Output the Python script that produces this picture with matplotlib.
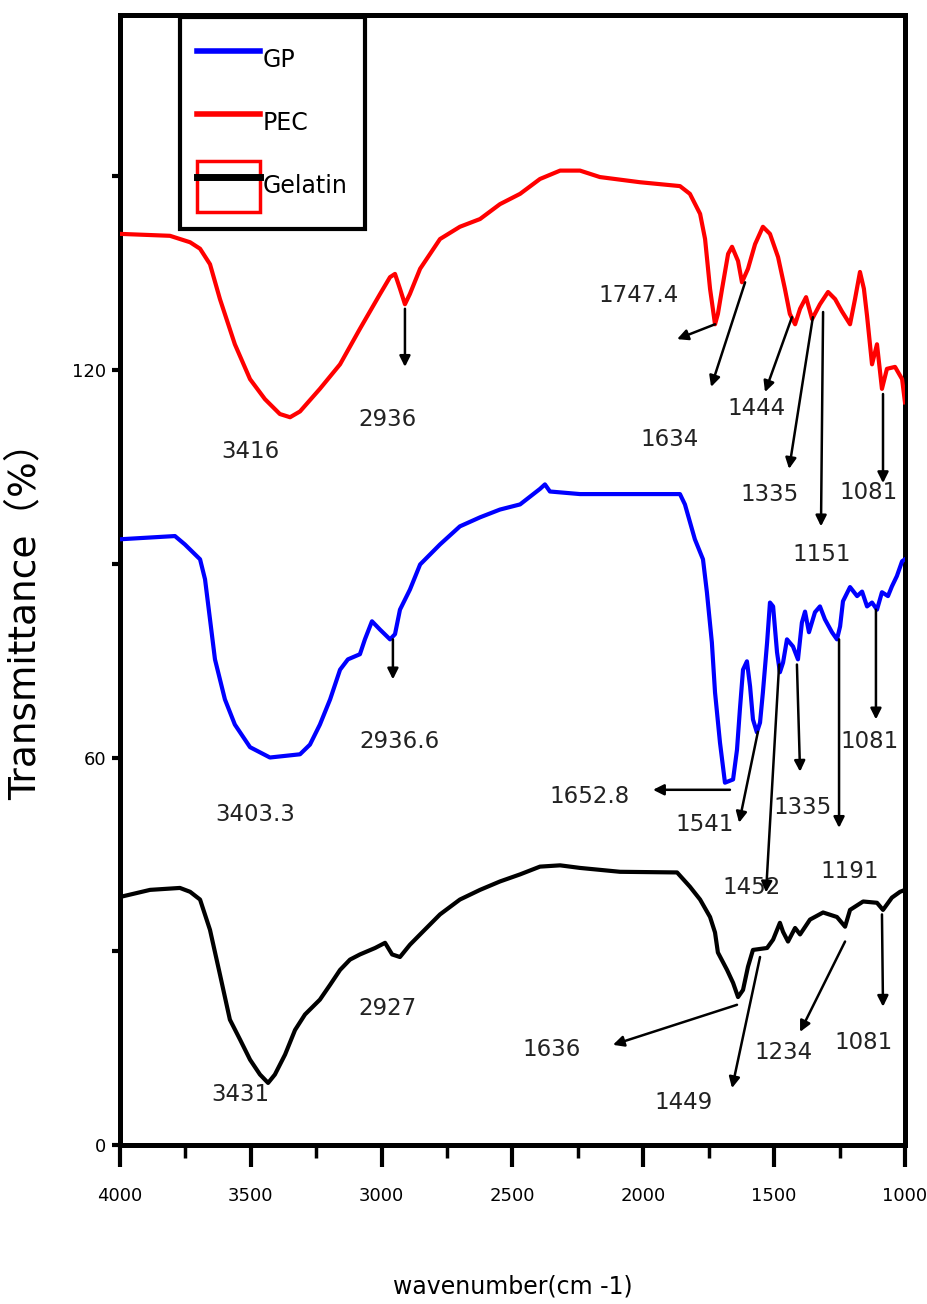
import matplotlib
matplotlib.use("Agg")
import matplotlib.pyplot as plt
from matplotlib.lines import Line2D
from matplotlib.patches import Rectangle
from matplotlib.legend_handler import HandlerTuple

FONT = ['DejaVu Sans']

# ---- data (wavenumber, transmittance) ----
pec_wn = [4000, 3809, 3732, 3694, 3656, 3618, 3561, 3503, 3446, 3389, 3350, 3312, 3236, 3159,
          3083, 3006, 2968, 2949, 2930, 2911, 2892, 2853, 2777, 2701, 2624, 2548, 2471, 2395,
          2318, 2242, 2166, 2013, 1860, 1822, 1783, 1764, 1745, 1726, 1715, 1699, 1676, 1661,
          1638, 1623, 1600, 1573, 1543, 1516, 1485, 1459, 1440, 1420, 1401, 1378, 1355, 1325,
          1294, 1267, 1241, 1210, 1191, 1172, 1157, 1145, 1126, 1107, 1088, 1069, 1038, 1011, 1000]
pec_t = [141.1, 140.8, 139.8, 138.8, 136.4, 131.0, 124.0, 118.6, 115.5, 113.2, 112.7, 113.6, 117.1, 120.9,
         126.4, 131.8, 134.4, 134.9, 132.6, 130.2, 131.8, 135.7, 140.3, 142.2, 143.4, 145.7, 147.3, 149.6,
         150.9, 150.9, 149.9, 149.1, 148.5, 147.3, 144.2, 140.3, 132.6, 127.1, 128.7, 132.6, 138.0, 139.1,
         136.9, 133.6, 135.7, 139.5, 142.2, 141.1, 137.5, 132.6, 128.7, 127.1, 129.5, 131.3, 127.9, 130.2,
         132.1, 131.0, 129.1, 127.1, 131.0, 135.2, 132.6, 128.4, 120.9, 124.0, 117.1, 120.2, 120.5, 118.6, 115.0]

gp_wn = [4000, 3790, 3752, 3694, 3675, 3656, 3637, 3599, 3561, 3503, 3427, 3312, 3274, 3236, 3197,
         3159, 3129, 3083, 3064, 3037, 3006, 2968, 2949, 2930, 2892, 2853, 2777, 2701, 2624, 2548,
         2471, 2395, 2376, 2357, 2242, 2089, 1860, 1841, 1803, 1772, 1757, 1738, 1726, 1707, 1688,
         1657, 1642, 1631, 1619, 1604, 1592, 1581, 1566, 1554, 1543, 1527, 1516, 1504, 1489, 1478,
         1466, 1451, 1428, 1409, 1394, 1382, 1367, 1344, 1325, 1306, 1279, 1260, 1248, 1237, 1210,
         1183, 1164, 1145, 1126, 1107, 1088, 1065, 1050, 1031, 1011, 1000]
gp_t = [93.8, 94.3, 93.0, 90.7, 87.6, 81.4, 75.2, 69.0, 65.1, 61.6, 60.0, 60.5, 62.0, 65.1, 69.0,
        73.6, 75.2, 76.0, 78.3, 81.1, 79.8, 78.3, 79.1, 82.9, 86.0, 89.9, 93.0, 95.8, 97.2, 98.4,
        99.2, 101.6, 102.3, 101.2, 100.8, 100.8, 100.8, 99.2, 93.8, 90.7, 85.6, 77.8, 70.1, 62.3, 56.1,
        56.6, 61.2, 67.4, 73.6, 74.9, 71.0, 65.9, 63.9, 65.4, 70.1, 77.8, 84.0, 83.4, 76.3, 73.2,
        74.7, 78.3, 77.2, 75.2, 80.9, 82.6, 79.4, 82.5, 83.4, 81.4, 79.4, 78.3, 80.3, 84.2, 86.4,
        85.0, 85.7, 83.4, 84.0, 82.9, 85.6, 85.0, 86.5, 88.1, 90.4, 90.7]

gel_wn = [4000, 3885, 3771, 3732, 3694, 3656, 3618, 3580, 3541, 3503, 3465, 3434, 3408, 3369, 3331,
          3293, 3236, 3197, 3159, 3121, 3083, 3025, 2987, 2960, 2930, 2892, 2853, 2777, 2701, 2624,
          2548, 2471, 2395, 2318, 2242, 2089, 1871, 1822, 1783, 1745, 1726, 1715, 1680, 1657, 1638,
          1619, 1600, 1581, 1527, 1504, 1478, 1466, 1447, 1420, 1401, 1363, 1313, 1260, 1229, 1210,
          1160, 1107, 1084, 1050, 1019, 1000]
gel_t = [38.4, 39.5, 39.8, 39.2, 38.0, 33.3, 26.4, 19.4, 16.3, 13.2, 10.9, 9.6, 10.9, 14.0, 17.8,
         20.2, 22.5, 24.8, 27.1, 28.7, 29.5, 30.5, 31.3, 29.5, 29.1, 31.0, 32.6, 35.7, 38.0, 39.5,
         40.8, 41.9, 43.1, 43.3, 42.9, 42.3, 42.2, 40.0, 38.0, 35.3, 32.9, 29.8, 27.1, 25.1, 22.9,
         24.0, 27.6, 30.2, 30.5, 31.8, 34.4, 33.0, 31.5, 33.6, 32.6, 34.9, 36.0, 35.3, 33.8, 36.4,
         37.7, 37.5, 36.4, 38.3, 39.2, 39.5]

# peak labels: (text, text_x, text_y)
labels = [
    ("3416", 3503, 107.4), ("2936", 2976, 112.4), ("1747.4", 2020, 131.6), ("1634", 1898, 109.3),
    ("1444", 1566, 114.0), ("1335", 1516, 100.8), ("1151", 1317, 91.5), ("1081", 1141, 101.0),
    ("3403.3", 3484, 51.2), ("2936.6", 2930, 62.5), ("1652.8", 2204, 54.0), ("1541", 1764, 49.6),
    ("1452", 1585, 39.8), ("1335", 1390, 52.2), ("1191", 1210, 42.3), ("1081", 1134, 62.5),
    ("3431", 3541, 7.8), ("2927", 2976, 21.2), ("1636", 2349, 14.7), ("1449", 1848, 6.5),
    ("1234", 1466, 14.3), ("1081", 1160, 15.8),
]
# arrows: (start_x, start_y, tip_x, tip_y)
arrows = [
    (2911, 129.5, 2911, 120.5), (1726, 127.1, 1871, 124.8), (1611, 133.6, 1741, 117.4),
    (1432, 128.2, 1535, 116.6), (1352, 128.2, 1443, 104.7), (1313, 129.0, 1321, 95.8),
    (1084, 116.3, 1084, 102.5),
    (2957, 78.3, 2957, 72.1), (1669, 55.0, 1963, 55.0), (1562, 64.0, 1634, 49.9),
    (1481, 74.4, 1531, 39.1), (1413, 74.4, 1401, 57.8), (1252, 78.3, 1252, 49.1),
    (1111, 82.9, 1111, 65.9),
    (1642, 21.7, 2116, 15.5), (1554, 29.1, 1661, 8.8), (1229, 31.5, 1401, 17.5),
    (1088, 35.7, 1084, 21.4),
]

x_ticks = [4000, 3500, 3000, 2500, 2000, 1500, 1000]
y_ticks = [0, 60, 120]

fig = plt.figure(figsize=(9.28, 13.04), dpi=100)
ax = fig.add_axes([0.1293, 0.122, 0.8459, 0.8665])

ax.plot(gp_wn, gp_t, color='#0000ff', lw=3.0, label='GP', zorder=3)
ax.plot(pec_wn, pec_t, color='#ff0000', lw=3.0, label='PEC', zorder=3)
ax.plot(gel_wn, gel_t, color='black', lw=3.0, label='Gelatin', zorder=3)

for sx, sy, tx, ty in arrows:
    ax.annotate('', xy=(tx, ty), xytext=(sx, sy),
                arrowprops=dict(arrowstyle='-|>', color='black', lw=1.8,
                                mutation_scale=16, shrinkA=0, shrinkB=0), zorder=4)
for txt, tx, ty in labels:
    ax.text(tx, ty, txt, ha='center', va='center', fontsize=16.5, family=FONT, color='#222222')

ax.set_xlim(4000, 1000)
ax.set_ylim(0, 175)
ax.set_xticks(x_ticks)
ax.set_xticks([3750, 3250, 2750, 2250, 1750, 1250], minor=True)
ax.set_yticks(y_ticks)
ax.set_yticks([30, 90, 150], minor=True)
ax.tick_params(axis='x', which='major', direction='out', length=16, width=3, pad=14, labelsize=13)
ax.tick_params(axis='x', which='minor', direction='out', length=9, width=2.5)
ax.tick_params(axis='y', which='both', direction='out', length=6, width=3, pad=4, labelsize=13)
for lab in ax.get_xticklabels() + ax.get_yticklabels():
    lab.set_family(FONT)
for sp in ax.spines.values():
    sp.set_linewidth(3.6)

ax.set_xlabel('wavenumber(cm -1)', fontsize=17, family=FONT, labelpad=50)
ax.set_ylabel('Transmittance（%）', fontsize=27, family=['DejaVu Sans', 'Noto Sans CJK SC'])
ax.yaxis.set_label_coords(-0.098, 0.472)

h_gp = Line2D([], [], color='#0000ff', lw=4)
h_pec = Line2D([], [], color='#ff0000', lw=4)
h_gel = (Rectangle((0, 0), 1, 1, facecolor='none', edgecolor='#ff0000', lw=2.5),
         Line2D([], [], color='black', lw=5))
leg = ax.legend([h_gp, h_pec, h_gel], ['GP', 'PEC', 'Gelatin'],
                handler_map={tuple: HandlerTuple(ndivide=1, pad=0)},
                loc='upper left', bbox_to_anchor=(0.076, 0.998), borderaxespad=0,
                prop={'family': FONT, 'size': 17}, handlelength=2.67, handleheight=2.95,
                handletextpad=0.1, labelspacing=0.5, borderpad=0.75, frameon=True, fancybox=False)
leg.get_frame().set_edgecolor('black')
leg.get_frame().set_linewidth(3)
leg.get_frame().set_alpha(1)

fig.savefig('out.png', dpi=100)
